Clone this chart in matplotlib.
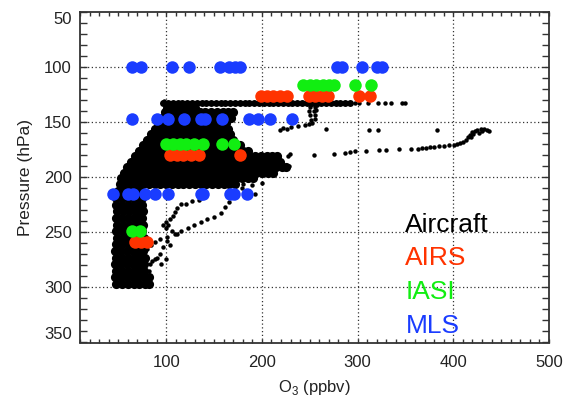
import matplotlib
matplotlib.use("Agg")
import matplotlib.pyplot as plt

plt.rcParams['font.family'] = ['Liberation Sans', 'DejaVu Sans']
plt.rcParams['mathtext.fontset'] = 'custom'
plt.rcParams['mathtext.rm'] = 'Liberation Sans'

# ---------------- data (O3 ppbv, pressure hPa) ----------------
# Aircraft: dense horizontal leg near 133 hPa
ac_leg_p = 133
ac_leg_x = [97, 102, 107, 112, 117, 122, 127, 132, 137, 142, 147, 152, 157, 162, 167,
            172, 177, 182, 187, 192, 197, 202, 207, 212, 217, 222, 227, 232, 237, 242,
            247, 252, 257, 262, 267, 272, 277, 282, 287, 292]

# Aircraft: dense descent region (rows of pressure with O3 values)
ac_fan_p = [137, 141, 146, 151, 156, 161, 166, 171, 176, 181, 186, 191, 196, 201, 206]
ac_fan_x = [
    [101, 107, 113, 119, 125, 130],
    [99, 105, 111, 117, 123, 129, 135, 141, 147, 153, 159, 165, 170],
    [96, 102, 108, 114, 120, 126, 132, 138, 144, 150, 156, 162, 168],
    [91, 97, 103, 109, 115, 121, 127, 133, 139, 145, 151, 157, 163],
    [88, 94, 100, 106, 112, 118, 124, 130, 136, 142, 148, 154, 160, 165],
    [84, 90, 96, 102, 108, 114, 120, 126, 132, 138, 144, 150, 156, 162, 167],
    [80, 86, 92, 98, 104, 110, 116, 122, 128, 134, 140, 146, 152, 158, 164, 170],
    [76, 82, 88, 94, 100, 106, 112, 118, 124, 130, 136, 142, 148, 154, 160, 166, 172, 177],
    [72, 78, 84, 90, 96, 102, 108, 114, 120, 126, 132, 138, 144, 150, 156, 162, 168, 174,
     180, 186],
    [67, 73, 79, 85, 91, 97, 103, 109, 115, 121, 127, 133, 139, 145, 151, 157, 163, 169,
     175, 181, 187, 193, 199, 205, 211, 216],
    [63, 69, 75, 81, 87, 93, 99, 105, 111, 117, 123, 129, 135, 141, 147, 153, 159, 165,
     171, 177, 183, 189, 195, 201, 207, 213, 219],
    [59, 65, 71, 77, 83, 89, 95, 101, 107, 113, 119, 125, 131, 137, 143, 149, 155, 161,
     167, 173, 179, 185, 191, 197, 203, 209, 215, 221, 225],
    [56, 62, 68, 74, 80, 86, 92, 98, 104, 110, 116, 122, 128, 134, 140, 146, 152, 158,
     164, 170, 176, 182, 188, 194, 200, 206, 212],
    [53, 59, 65, 71, 77, 83, 89, 95, 101, 107, 113, 119, 125, 131, 137, 143, 149, 155,
     161, 167, 173, 179, 185, 191],
    [52, 58, 64, 70, 76, 82, 88, 94, 100, 106, 112, 118, 124, 130, 136, 142, 148, 154,
     160, 166, 172],
]

# Aircraft: low-level column
ac_col_p = [213, 219, 225, 231, 237, 243, 249, 255, 261, 267, 273, 279, 285, 291, 297]
ac_col_x = [
    [50, 56, 62, 68, 74],
    [48, 54, 60, 66, 72, 75],
    [48, 54, 60, 66, 72, 75],
    [49, 55, 61, 67, 73, 76],
    [48, 54, 60, 66, 72, 75],
    [49, 55, 61, 67, 73, 76],
    [48, 54, 60, 66, 72, 75],
    [49, 55, 61, 67, 73, 77],
    [48, 54, 60, 66, 72, 77],
    [47, 53, 59, 65, 71, 76],
    [48, 54, 60, 66, 72, 78],
    [47, 53, 59, 65, 71, 77],
    [48, 54, 60, 66, 72, 77],
    [47, 53, 59, 65, 71, 77, 82],
    [48, 54, 60, 66, 72, 78, 82],
]

# Aircraft: sparse samples
ac_dot_x = [297, 301, 311, 321, 329, 335, 346, 350, 98,
            250, 255, 258, 249, 254, 257, 250, 255, 251, 255, 252, 249,
            245, 238, 230, 222, 226, 219,
            267, 312, 321, 383,
            218, 227, 254, 275, 287, 292, 297, 309, 322, 330, 343, 356, 363, 367, 371,
            376, 380, 385, 390, 395, 401, 404, 407, 410, 413, 415, 417, 420, 423, 425,
            429, 432, 435, 437, 430, 427, 421, 418,
            198, 205, 212, 229, 226, 228, 200, 190, 180, 179,
            187, 193,
            162, 166, 157, 150, 143, 136, 129, 123, 116, 109, 101, 94, 88, 84, 80,
            134, 127, 121, 116, 111, 109, 107, 104, 100, 97, 102, 100, 106, 111, 104,
            101, 97, 94, 100, 95, 90, 88, 85, 83, 82, 78, 83, 76, 80]
ac_dot_p = [133, 133, 133, 133, 133, 133, 133, 133, 131,
            136, 136, 135, 140, 140, 139, 144, 144, 148, 147, 151, 152,
            153, 154, 155, 155.5, 156.5, 157,
            156.5, 157, 157, 157,
            181, 181, 180, 179, 178, 177.5, 176.6, 176.4, 175.7, 175.5, 174.8, 174.5,
            174.2, 174, 173.3, 172.8, 172.4, 172, 171.5, 171.2, 170.9, 170.3, 169.5,
            168.2, 166, 164, 162, 159, 158, 157, 156, 156.5, 157.5, 158, 158.5, 160,
            161, 164,
            183, 182, 181, 179, 192, 190, 205, 207, 206, 210,
            213, 215,
            227, 223, 233, 236, 238, 241, 243, 246, 248.5, 251.5, 254.5, 256, 259, 262,
            265,
            221, 222, 224, 224, 228, 232, 235, 238, 241, 243, 243, 246, 248.5, 251.5,
            262, 257.5, 263.6, 269.6, 274, 279, 273, 274, 276, 279, 285, 285, 291, 291,
            298]

# Satellite retrievals
airs_x = [199, 205, 212, 219, 226, 249, 256, 263, 269, 302, 313,
          104, 111, 118, 126, 134, 177,
          67, 74, 80]
airs_p = [126.5] * 11 + [180] * 6 + [259] * 3

iasi_x = [243, 250, 257, 264, 270, 275, 297, 314,
          100, 107, 114, 121, 129, 138, 158, 171,
          64, 73]
iasi_p = [116.6] * 8 + [170] * 8 + [249] * 2

mls_x = [64, 74, 106, 124, 156, 166, 172, 177, 279, 284, 305, 320, 326,
         64, 90, 102, 119, 136, 141, 158, 187, 196, 208, 232,
         44, 60, 65, 78, 88, 102, 136, 139, 167, 171, 184]
mls_p = [100] * 13 + [147] * 11 + [215] * 11

legend_names = ["Aircraft", "AIRS", "IASI", "MLS"]
legend_p = [250, 280, 311, 341]

x_ticks = [100, 200, 300, 400, 500]
y_ticks = [50, 100, 150, 200, 250, 300, 350]

# ---------------- style ----------------
c_air = 'black'
c_airs = '#ff3300'
c_iasi = '#11ee11'
c_mls = '#1a3cff'
colors = [c_air, c_airs, c_iasi, c_mls]

fig = plt.figure(figsize=(5.66, 4.0), dpi=100)
ax = fig.add_axes([80 / 566, (400 - 342.5) / 400, (549 - 80) / 566, (342.5 - 11.7) / 400])

# aircraft
fx, fp = [], []
for p, xs in zip(ac_fan_p, ac_fan_x):
    fx += xs
    fp += [p] * len(xs)
cx, cp = [], []
for p, xs in zip(ac_col_p, ac_col_x):
    cx += xs
    cp += [p] * len(xs)

ax.plot(fx, fp, 'o', color=c_air, ms=6.6, mew=0, zorder=2)
ax.plot(cx, cp, 'o', color=c_air, ms=6.6, mew=0, zorder=2)
ax.plot(ac_leg_x, [ac_leg_p] * len(ac_leg_x), 'o', color=c_air, ms=5, mew=0, zorder=2)
ax.plot(ac_dot_x, ac_dot_p, 'o', color=c_air, ms=3.2, mew=0, zorder=2)

ax.plot(airs_x, airs_p, 'o', color=c_airs, ms=9, mew=0, zorder=3)
ax.plot(iasi_x, iasi_p, 'o', color=c_iasi, ms=9, mew=0, zorder=3)
ax.plot(mls_x, mls_p, 'o', color=c_mls, ms=9, mew=0, zorder=3)

for name, p, c in zip(legend_names, legend_p, colors):
    ax.text(350, p, name, color=c, fontsize=19, va='baseline', ha='left', zorder=4)

ax.set_xlim(10, 500)
ax.set_ylim(350, 50)

ax.set_xticks(x_ticks, [str(t) for t in x_ticks])
ax.set_xticks(list(range(10, 501, 10)), minor=True)
ax.set_yticks(y_ticks, [str(t) for t in y_ticks])
ax.set_yticks(list(range(50, 351, 10)), minor=True)

ylabels = ax.get_yticklabels()
ylabels[0].set_va('top')
ylabels[-1].set_va('bottom')

for s in ax.spines.values():
    s.set_color('#333333')
    s.set_linewidth(1.3)

ax.tick_params(axis='both', which='both', direction='in', top=True, right=True,
               color='#333333', labelcolor='#222222', labelsize=12)
ax.tick_params(axis='y', which='both', length=5, width=1, pad=6)
ax.tick_params(axis='x', which='both', length=3, width=1, pad=9)

for v in [100, 200, 300, 400]:
    ax.axvline(v, color='#333333', lw=0.9, ls=(0, (1, 2)), zorder=1)
for p in [100, 150, 200, 250, 300]:
    ax.axhline(p, color='#333333', lw=0.9, ls=(0, (1, 2)), zorder=1)

ax.set_xlabel('O$_{3}$ (ppbv)', fontsize=12, color='#222222', labelpad=6)
ax.set_ylabel('Pressure (hPa)', fontsize=12.5, color='#222222', labelpad=8)

fig.savefig('out.png', dpi=100)
